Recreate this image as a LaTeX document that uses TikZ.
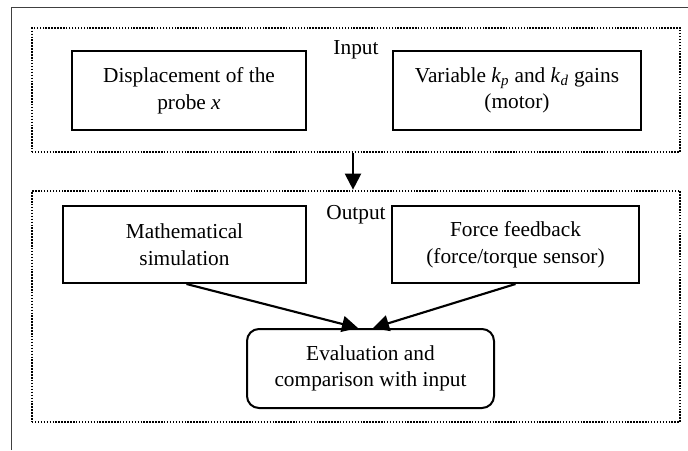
\documentclass[tikz,border=0pt]{standalone}
\usepackage{fontspec}
\setmainfont{Liberation Serif}
\usetikzlibrary{arrows.meta,calc}
\newdimen\pxu
\pxu=0.75pt
\newcommand{\gain}[1]{\textit{k}\textsubscript{\textit{#1}}}
\begin{document}
\begin{tikzpicture}[x=0.75pt,y=-0.75pt,
  every node/.style={font=\fontsize{16}{20}\selectfont},
  box/.style={draw=black, line width=1.5pt, align=center, inner sep=0pt},
  rbox/.style={box, rounded corners=9pt},
  group/.style={draw=black, line width=2pt, dash pattern=on 1.1pt off 1.1pt, inner sep=0pt},
  arr/.style={draw=black, line width=1.6pt, -{Triangle[length=12pt,width=12pt]}},
  frame/.style={draw=black!75, line width=1pt}]
\useasboundingbox (0,0) rectangle (688,450);

% partial outer frame
\draw[frame] (11.5,450) -- (11.5,7.5) -- (688,7.5);

% dotted groups
\node[group, minimum width=648\pxu, minimum height=124\pxu] (inbox) at (356,90) {};
\node[group, minimum width=648\pxu, minimum height=231\pxu] (outbox) at (356,306.5) {};
\node (inlbl) at (356,50) {Input};
\node (outlbl) at (356,215) {Output};

% input boxes
\node[box, minimum width=234\pxu, minimum height=79\pxu] (disp) at (189,90.5)
  {Displacement of the\\probe \textit{x}};
\node[box, minimum width=248\pxu, minimum height=79\pxu] (gains) at (517,90.5)
  {Variable \gain{p} and \gain{d} gains\\(motor)};

% output boxes
\node[box, minimum width=243\pxu, minimum height=77\pxu] (sim) at (184.5,244.5)
  {Mathematical\\simulation};
\node[box, minimum width=247\pxu, minimum height=77\pxu] (force) at (515.5,244.5)
  {Force feedback\\(force/torque sensor)};
\node[rbox, minimum width=247\pxu, minimum height=79\pxu] (eval) at (370.5,368.5)
  {Evaluation and\\comparison with input};

% connectors
\coordinate (dn) at (353,0);
\draw[arr] (inbox.south -| dn) -- (outbox.north -| dn);
\draw[arr] ([xshift=2\pxu]sim.south) -- ([xshift=-12.5\pxu]eval.north);
\draw[arr] (force.south) -- ([xshift=2.5\pxu]eval.north);
\end{tikzpicture}
\end{document}
